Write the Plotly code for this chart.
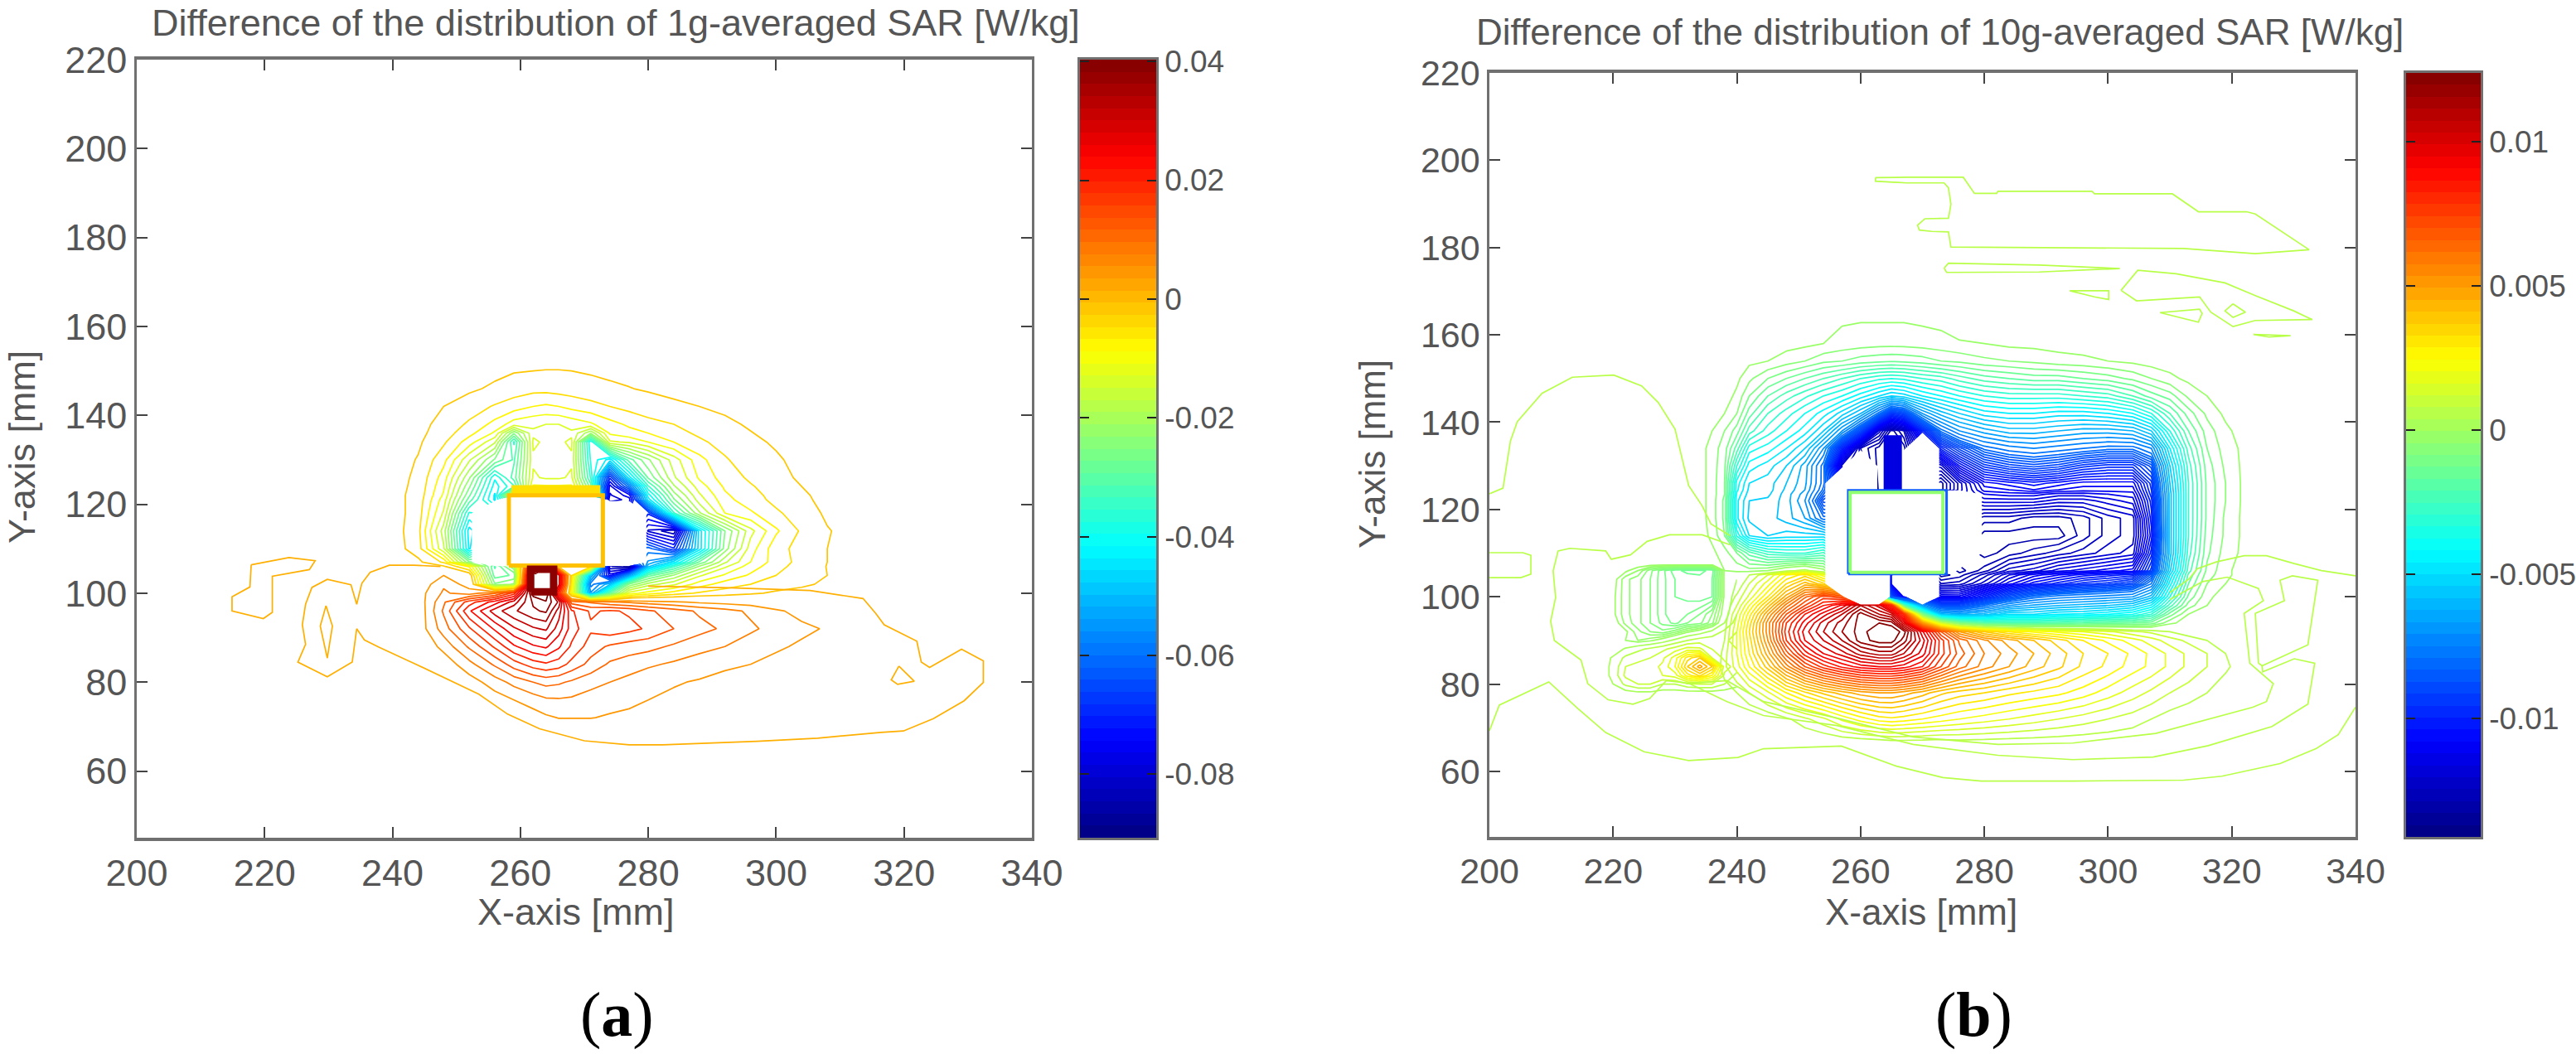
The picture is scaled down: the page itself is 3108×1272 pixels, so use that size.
import numpy as np
import plotly.graph_objects as go

N = None
W, H = 3108, 1272

# ---------- panel (a) values, in units of 0.001 W/kg ----------
a_x = [240,244,248,252,256,259,262,264,266,268,271,274,277,280,284,288,292,296,300,304,308,312]
a_y = [62,68,72,76,80,84,88,92,96,98,100,102,104,106,107,110,114,118,121,122,124,126,130,134,136,138,142,146,150,154]
a_z = [
 [0]*22,
 [0,0,0,0,0,0,1,1.5,2,2,2,2,2,2,2,1.5,1,1,1,0,0,0],
 [0,0,0,0,1,2,3,4,4.6,4.6,4.6,4.2,4,3.5,3,2.5,2,1.5,1,0,0,0],
 [0,0,0,1,3,4.5,6,7,7.2,7,6.2,5.5,5,4.5,3.8,3.2,2.6,2,1.5,1,0,0],
 [0,0,1,3,6,8.5,10.5,11.5,11,10,8.5,7.5,6.5,5.5,4.8,4.2,3.6,3,2.2,1.5,.8,0],
 [0,0,2.5,6.5,11,15,18,19,18,15.5,12.5,10,9,8,7,6,5,4.5,3.5,2.5,1,0],
 [0,1.5,5.5,11,17,22,25,26,23,19,15,13,12,11.5,10,8.5,7.5,6,5,4,2.5,1],
 [0,2.5,9,16,23,28,31,32,27,21,17,18.5,17.5,16,13.5,11.5,10,8,6.5,5.2,4.2,2.5],
 [0,2,11,22,30,34,37,38,30,20,16,17,16,14,12,10,8.5,7,5,3.5,2,.5],
 [0,2.5,10,18,24,30,38,40,34,12,10,8,7,6,5,4,3.5,3,2,1,.5,0],
 [0,3,8,6,10,18,42,45,20,-8,-55,-30,-12,-9,-6,-4,-3,-2,-1,-.5,0,0],
 [0,2,7,3,-25,-22,45,N,30,-6,-60,-50,-25,-18,-14,-9,-6,-4.5,-3,-2,-1,0],
 [0,1.5,4.5,1,-30,-28,45,N,30,-4,-50,-75,-55,-30,-22,-14,-10,-7,-4.5,-3,-1.5,-.5],
 [0,-.5,-1,-8,-32,-20,30,30,-2,-2,-3,-85,-90,-50,-35,-22,-14,-9,-5.5,-3.2,-1.4,0],
 [0,-.8,-5,-25,N,N,N,N,N,N,N,N,N,-55,-45,-28,-17,-10.5,-6,-3.5,-1.5,0],
 [0,-3,-16,-44,N,N,N,N,N,N,N,N,N,-60,-70,-45,-24,-12,-5.5,-3.5,-1.5,0],
 [0,-3.5,-18,-45,N,N,N,N,N,N,N,N,N,-80,-85,-45,-25.5,-14.5,-8,-4,-1.7,-.5],
 [0,-3,-14,-38,N,N,N,N,N,N,N,N,N,-70,-35,-20,-10.5,-8,-5,-3,-1,0],
 [-.3,-2.7,-12,-30,-44,N,N,N,N,N,N,-82,-78,-45,-26,-15,-8.5,-5.8,-3.7,-2.1,-.7,0],
 [-.5,-2.5,-11,-28,-44,-8,-7,-7,-7,-7,-8,-80,-75,-42,-24,-14,-8,-5.5,-3.5,-2,-.5,0],
 [-.5,-2.2,-10,-25,-42,-35,-10,-10,-10,-10,-30,-78,-60,-35,-20,-12,-7,-4.8,-3,-1.5,-.2,0],
 [-.5,-2,-9,-22,-40,-30,-13,-14,-14,-13,-35,-70,-45,-28,-17,-10,-6,-4,-2.5,-1,0,0],
 [0,-1.7,-6.5,-16,-26,-32,-14,-15,-15,-14,-38,-45,-30,-23,-15,-8.5,-4.8,-3,-1.8,-.8,0,0],
 [0,-1,-4,-9,-16,-35,-13,-14,-14,-13,-40,-14,-13,-10.5,-7.5,-5,-3.5,-2,-1.2,0,0,0],
 [0,-.7,-3,-6.5,-11,-25,-14,-14.5,-14.5,-14,-22,-10,-8.5,-7.5,-5.5,-4,-3,-1.6,-.8,0,0,0],
 [0,-.5,-2.5,-5,-8.5,-12,-13,-13.5,-13.5,-12.5,-11,-8.5,-7,-5.5,-4.5,-3,-2,-1.2,-.4,0,0,0],
 [0,-.2,-1.5,-3,-4.8,-6,-7.5,-8,-7.5,-6.5,-5.5,-4.5,-3.5,-2.8,-2,-1.5,-1,-.4,0,0,0,0],
 [0,0,-.3,-1,-2,-3,-3.5,-3.5,-3.2,-3,-2.5,-2,-1.6,-1.2,-.8,-.5,-.2,0,0,0,0,0],
 [0,0,0,-.2,-.8,-1.3,-1.5,-1.6,-1.6,-1.5,-1.2,-.9,-.7,-.5,-.3,-.2,0,0,0,0,0,0],
 [0]*22,
]
# outer contour at +0.0015 W/kg
a_outer_x = [247.5,243.4,239.5,236.5,235.2,234.4,233.5,229.8,227.4,226.4,225.9,226.4,225.2,229.8,233.7,234.4,235.6,237.8,243.4,253.5,258,263,270,277,282.3,297,306.5,316.4,319.9,324.6,329.4,332.4,332.4,329,324,322.7,322,316.9,315.6,313.6,305.3,292.8,280]
a_outer_y = [106,106.3,106.3,104.7,102.2,97.5,101.9,103.1,101.3,97.5,92.9,88.5,84.5,81.2,84.5,92,89.5,87.9,84.2,77.3,72.8,69.5,66.8,65.9,65.9,66.7,67.4,68.7,69,71.8,75.8,79.9,84.8,87.4,83.3,84.5,89.2,92.9,95.4,98.8,100.6,101.2,101.6]
a_isl1_x = [217.9,223.8,227.9,227,221.2,221.2,219.8,214.9,214.9,217.7,217.9]
a_isl1_y = [106.4,108,107.3,105.3,103.8,95.7,94.3,96,99.2,101.4,106.4]
a_isl2_x = [229.6,230.6,229.8,228.7,229.6]
a_isl2_y = [97.2,92.6,85.4,92.6,97.2]
a_isl3_x = [319.2,321.6,319,318,319.2]
a_isl3_y = [83.6,80.2,79.5,80.5,83.6]
a_box_x = [258.2,272.9,272.9,258.2,258.2]
a_box_y = [106.2,106.2,122,122,106.2]
a_cap_x = [258.6,272.5]      # saturated band on top of the square
a_cap_y = [123.2,123.2]
a_core_x = [261.6,265.2,265.2,261.6,261.6]   # saturated block round the small hole
a_core_y = [100.3,100.3,105.4,105.4,100.3]

# ---------- panel (b) values, in units of 0.001 W/kg ----------
b_x = [234,236,238,240,242,245,248,251,254,257,260,263,265,267,270,273,276,280,284,288,292,296,300,304,307,310,313,316,319,322,325]
b_y = [60,66,72,78,84,87,90,92,94,96,98,100,103,105,106,110,114,118,122,123.5,124.5,126,130,134,138,142,146,150,154,158,162,166]
b_z = [
 [0]*31,
 [0,0,0,0,0,0,0,0,0,0,0,0,.1,.1,.1,.1,.2,.2,.2,.2,.2,.2,.2,.2,.1,0,0,0,0,0,0],
 [0,0,0,0,.1,.2,.5,.9,1.3,1.9,2.4,2.8,2.9,2.8,2.6,2.4,2.2,2,1.8,1.6,1.4,1.2,1,.8,.6,.4,.3,.1,0,0,0],
 [0,0,.3,.6,1,1.7,2.6,3.3,3.9,4.4,4.8,5,5,4.8,4.4,3.9,3.6,3.4,3.1,2.9,2.7,2.4,2,1.6,1.3,1,.8,.6,.3,.1,0],
 [0,0,.9,1.6,2.6,4,5.6,7,8,8.7,9.2,9.4,9.4,9.2,8.6,7.4,6.4,5.6,5,4.4,3.9,3.3,2.9,2.4,2.1,1.7,1.3,1,.7,.3,.1],
 [0,0,.8,1.8,3,4.8,6.8,8.4,9.4,10,10.8,11.2,11.2,10.6,9.6,8,6.8,5.8,5.2,4.6,4,3.4,3,2.5,2.1,1.7,1.3,1,.6,.3,.1],
 [0,0,.6,1.8,3.2,5.4,7.8,9.4,10.2,11,12,12.4,12.4,11.6,10,8,6.5,5.5,4.8,4.2,3.6,3,2.5,2,1.6,1.2,.9,.6,.3,.1,0],
 [0,0,.5,1.8,3.4,5.6,8,9.6,10.6,11.4,12,12.6,12.6,12,9.5,7,5,3.8,3,2.5,2.1,1.8,1.5,1.1,.9,.6,.3,.1,0,0,0],
 [0,0,.4,1.6,3.2,5.6,7.8,9.2,10.4,11.2,12,12.2,12,10,5,1,-1,-2,-2.2,-2.2,-2,-1.8,-1.6,-1.4,-1.2,-.3,0,0,0,0,0],
 [0,0,.3,1.4,2.8,5,7,8.6,9.6,10.6,12,11,10.5,8,-1,-6,-6.5,-6,-5,-5,-4.6,-4.5,-4.2,-3.8,-3,-1.2,-.2,0,0,0,0],
 [0,0,.2,1,2.2,4,6,7.4,8.6,9.5,11,10,8,-2,-7,-9,-9,-8,-7,-6.5,-6.2,-6,-5.8,-5.4,-4.5,-2.4,-.8,-.2,0,0,0],
 [0,0,.1,.7,1.5,3,4.8,6.5,7.6,7,N,N,-9,-11,N,-11,-11,-10,-8.8,-8,-7.6,-7.4,-7.2,-7,-6,-3.4,-1.3,-.3,0,0,0],
 [0,0,0,.2,1,2,3.4,4.4,3.5,N,N,N,-11,N,N,-12.5,-12.4,-11.8,-11,-10.4,-10,-9.6,-9.4,-9,-7.8,-4.4,-1.8,-.6,-.2,0,0],
 [0,0,-.1,.1,.6,1.4,2.6,3.2,2,N,N,N,-11,N,N,-13,-12.8,-12.2,-11.5,-11,-10.7,-10.4,-10.2,-10,-8.6,-5,-2.1,-.8,-.3,0,0],
 [0,-.05,-.2,-.3,-.4,-.2,.4,.8,0,N,N,N,N,N,N,N,-13,-12.6,-12,-11.8,-11.4,-11.2,-11,-10.8,-9.4,-5.5,-2.4,-.9,-.3,0,0],
 [0,-.1,-.4,-1,-2,-2.8,-3,-3,-2.5,N,N,N,N,N,N,N,N,-13,-12.8,-12.6,-12.4,-12.2,-12,-11.8,-10,-6,-2.8,-1.1,-.4,-.1,0],
 [0,-.3,-1,-3.5,-5,-5.4,-5.2,-5.2,-5.2,N,N,N,N,N,N,N,N,-13,-13,-13,-13,-12.6,-12.2,-12,-10.4,-6,-3,-1.2,-.5,-.1,0],
 [0,-.4,-1.1,-4.5,-5.5,-5.6,-6,-6.6,-8,N,N,N,N,N,N,N,N,-12.6,-12.6,-12.8,-12.8,-12.6,-12.2,-12,-10.2,-6,-3,-1.3,-.5,-.1,0],
 [0,-.4,-1.1,-4.5,-5.4,-5.5,-6,-7,-9,N,N,N,N,N,N,N,N,-11.6,-11.6,-11.6,-11.8,-11.8,-11.6,-11.4,-10,-6,-3,-1.3,-.6,-.1,0],
 [0,-.4,-1,-4.3,-5.2,-5.3,-6,-6.8,-8.5,N,N,N,N,N,N,N,N,-11.3,-11.2,-11.2,-11.4,-11.4,-11.3,-11.2,-9.8,-6,-3,-1.3,-.6,-.1,0],
 [0,-.4,-1,-4.1,-5.1,-5.2,-5.9,-6.6,-8.2,N,N,-13,-13,N,N,-13,-12,-11,-10.9,-10.7,-10.9,-11,-11,-11,-9.7,-5.9,-3,-1.3,-.6,-.1,0],
 [0,-.4,-1,-4,-5,-5.2,-5.8,-6.5,-8,N,N,-13,-13,N,N,-13,-12,-10.8,-10.6,-10.4,-10.6,-10.8,-10.8,-10.8,-9.6,-5.8,-3,-1.3,-.6,-.1,0],
 [0,-.4,-.9,-3,-4.4,-4.8,-5.4,-6.4,-8,-12,N,-13,-13,N,N,-12,-10.5,-9.4,-9,-8.8,-9,-9.4,-9.6,-9.6,-8.8,-5.4,-2.8,-1.2,-.5,-.1,0],
 [0,-.4,-.8,-2,-3.6,-4,-4.6,-5.4,-7,-10,-12.5,-13,-13,-13,N,-10,-9,-8,-7.6,-7.4,-7.6,-7.8,-8,-8,-7.4,-4.6,-2.4,-1,-.4,-.1,0],
 [0,-.2,-.6,-1.2,-2.4,-3.2,-3.8,-4.4,-5.4,-7,-9,-12,-13,-12.5,-10,-8,-7,-6.4,-6,-6,-6.2,-6.4,-6.4,-6.2,-5.4,-3.4,-1.8,-.8,-.3,0,0],
 [0,-.05,-.2,-.6,-1.6,-2.6,-3.2,-3.8,-4.4,-5.2,-6.2,-8,-9.5,-9,-7,-6,-5.4,-4.8,-4.6,-4.6,-4.8,-4.8,-4.6,-4.2,-3.4,-2.2,-1.2,-.5,-.1,0,0],
 [0,0,0,-.3,-1,-1.8,-2.4,-2.9,-3.4,-3.8,-4.4,-5,-5.4,-5.2,-4.6,-4.2,-3.8,-3.4,-3.2,-3.2,-3.2,-3,-2.8,-2.2,-1.6,-1.2,-.5,-.2,0,0,0],
 [0,0,0,-.1,-.5,-1,-1.4,-1.8,-2.2,-2.6,-3,-3.3,-3.4,-3.3,-3,-2.8,-2.4,-2,-1.8,-1.6,-1.6,-1.4,-1.2,-.9,-.6,-.3,-.1,0,0,0,0],
 [0,0,0,0,-.1,-.2,-.4,-.6,-.9,-1,-1.2,-1.3,-1.35,-1.3,-1.2,-1,-.9,-.7,-.6,-.5,-.35,-.3,-.2,-.1,0,0,0,0,0,0,0],
 [0,0,0,0,0,0,-.05,-.1,-.2,-.35,-.4,-.45,-.45,-.45,-.4,-.35,-.25,-.2,-.1,-.08,-.05,0,0,0,0,0,0,0,0,0,0],
 [0,0,0,0,0,0,0,0,-.1,-.2,-.25,-.25,-.25,-.25,-.2,-.15,0,0,0,0,0,0,0,0,0,0,0,0,0,0,0],
 [0]*31,
]
# the small pocket and hot spot left of the main lobes
c_x = [218,220,222,224,226,228,230,232,234,236,238,240]
c_y = [76,78,80,82,84,86,88,90,92,94,96,100,104,106,107.5]
c_z = [
 [0]*12,
 [0,0,0,.1,.1,0,0,0,0,0,0,0],
 [0,.2,.7,1,1,.6,.6,.9,1,1,.6,.3],
 [0,.3,1.1,1.3,1.3,1.4,1.6,2.8,3.5,2.6,.9,.5],
 [0,.3,1,1.1,1.2,1.5,2.2,3.8,4.8,3.8,1.2,.8],
 [0,.25,.7,.9,1,1.3,2,3.2,3.8,1.4,.9,.9],
 [0,0,.25,.5,.7,.9,1.2,1.6,1.5,1,.9,1],
 [0,0,-.15,-.3,-.2,0,.3,.6,.8,.85,.9,1.2],
 [0,0,-.1,-.4,-.6,-.7,-.5,-.2,0,.3,.7,1],
 [0,0,-.35,-.55,-.75,-.95,-1.1,-.9,-.8,-.5,.2,.8],
 [0,-.1,-.4,-.55,-.75,-1,-1.2,-1.05,-.9,-.6,0,.6],
 [0,-.1,-.4,-.55,-.75,-1,-1.2,-1.25,-1.3,-1.2,-.1,.4],
 [0,-.05,-.4,-.55,-.75,-1,-1.2,-1.25,-1.3,-1.2,-.1,.2],
 [0,0,-.1,-.3,-.7,-1,-1.3,-1.4,-1.4,-1.3,-.1,0],
 [0]*12,
]
# outer contours of panel (b), about +0.0002 W/kg
b_lines = {
 "loop": ([200,202.2,203.4,204.5,208.5,213.4,220.1,224.6,227.3,230,232.2,234.4,235.8,238.9],
          [123.6,124.9,135.7,140.1,146.6,150.3,150.8,148.3,144.5,138.4,125.5,120.8,116.7,114]),
 "stub": ([200,205.4,206.7,206.7,205.1,200],[110.1,110.1,109.5,105.2,104.4,104.4]),
 "mid": ([238.9,234.4,229.1,225.5,222.8,219.7,218.8,213,211.1,210.3,210.7,209.9,210.5,214.8,215.9,219.2,223.2,225.9,228.6,232.2,238.4,244.3,256.2,268.5,282.2,294.3,307.3,316.2,326.5,332.3,333.4,330.1,325,324.9],
         [111.9,114.2,114.2,112.7,109.6,108.6,110.5,111.1,110.5,105.9,99.8,94.4,90,85.5,80.1,76.4,75.4,76.7,80.8,80.2,76,72.8,70.5,66.2,63.7,62.7,63.3,65.9,70.3,75.4,84.8,85.8,82.8,84.2]),
 "bottom": ([200,201.6,209.6,214.3,218.8,225,232.2,240.2,244.3,256.9,265.8,273.3,279.5,294.3,312.2,318.4,327.8,333.6,337.2,340],
            [69.3,75.2,80.5,74.4,68.9,64.5,62.5,63.2,65.2,65.8,61.2,58.6,57.8,57.8,58,58.9,61.8,65.2,68.4,74.7]),
 "pocket": ([324.3,323.8,328.5,327.8,329.8,333.9,332.3,324.9,324.3],[84.8,96.2,99.1,103.8,104.8,103.8,89,84.2,84.8]),
 "inner": ([232.2,238.4,244.3,256.2,268.5,282.2,294.3,307.7,323.4,325.6,326.7,322.9,322,325.1,324.3,319.3,315.3,310],
           [80.2,80.8,76,72.2,67.9,66.2,66.5,68.7,74.7,76,80.1,84.8,96.2,99.1,101.9,104.5,103.5,99.4]),
 "tail": ([340,334.5,330.1,325.6,322,317.5,314.4,313.1,310],[104.8,106,107.6,109.4,109.4,108,106.4,104.1,101]),
 "top": ([262.4,267.45,276.6,278.4,282,282.2,297.4,297.8,310.4,314.6,322.4,323.8,332.5,323.8,312.2,274.6,274.2,271.5,269.5,269.2,270.4,274.2,274.6,274.2,273.5,267.45,262.4,262.4],
         [196,196.1,196.1,192.4,192.4,192.9,192.9,192.3,192.3,188.2,188.2,187.7,179.5,178.6,179.8,180.1,183.6,183.7,184,185.1,186.6,186.7,189.9,193.7,194.8,194.8,195.2,196]),
 "thin": ([273.5,274.2,288.9,301.9,288.9,273.9,273.5],[175.3,176.4,176,175.2,174.4,174.3,175.3]),
 "wedge1": ([293.8,300.1,300.1,297.8,293.8],[170.1,170.1,168.1,168.7,170.1]),
 "isle": ([302.1,304.8,311,318.9,323.8,330,333,323.8,320.2,316.6,314.8,307.7,304.6,302.1],
          [170.2,174.8,174,171.9,169,165.5,163.5,163.3,161.9,165.2,168.7,168.1,167.8,170.2]),
 "wedge2": ([308.4,314.8,315.2,314.6,308.4],[165.1,165.9,164.9,162.9,165.1]),
 "diamond": ([320.2,322.2,320.2,318.9,320.2],[167.1,165.2,164,165.5,167.1]),
 "sliver": ([323.5,329.5,326,323.5],[160.1,159.8,159.5,160.1]),
}
b_box_x = [258.3,273.3,273.3,258.3,258.3]
b_box_y = [105.6,105.6,123.9,123.9,105.6]
b_shell_x = [258,273.9,273.9,258,258]
b_shell_y = [105.2,105.2,124.4,124.4,105.2]
b_strip_x = [265.2,265.2]     # solid blue strip above the square
b_strip_y = [124.4,137]

# ---------- axes text ----------
x_ticks = [200,220,240,260,280,300,320,340]
y_ticks = [60,80,100,120,140,160,180,200,220]
a_cb_ticks = [-80,-60,-40,-20,0,20,40]
a_cb_text = ["-0.08","-0.06","-0.04","-0.02","0","0.02","0.04"]
b_cb_ticks = [-10,-5,0,5,10]
b_cb_text = ["-0.01","-0.005","0","0.005","0.01"]
a_range = (-90.7, 40.3)
b_range = (-14.1, 12.38)
title_a = "Difference of the distribution of 1g-averaged SAR [W/kg]"
title_b = "Difference of the distribution of 10g-averaged SAR [W/kg]"

JET_PTS = [(0,(0,0,128)),(.125,(0,0,255)),(.375,(0,255,255)),(.625,(255,255,0)),(.875,(255,0,0)),(1,(128,0,0))]
JET = [[t,"rgb(%d,%d,%d)"%c] for t,c in JET_PTS]
def jet(t):
    t = min(max(t,0),1)
    for (t0,c0),(t1,c1) in zip(JET_PTS,JET_PTS[1:]):
        if t <= t1:
            f=(t-t0)/(t1-t0)
            return "rgb(%d,%d,%d)"%tuple(round(a+(b-a)*f) for a,b in zip(c0,c1))
def level_colour(v,r): return jet((v-r[0])/(r[1]-r[0]))
def sub_scale(start,end,r):
    # plotly spreads a line-coloured scale over start..end, so hand it that part of the colour bar
    return [[i/40, level_colour(start+(end-start)*i/40, r)] for i in range(41)]

INK = "#555555"
AXC = "#707070"
LW = 1.7
fig = go.Figure()

def dom_x(l,r): return [l/W, r/W]
def dom_y(t,b): return [1-b/H, 1-t/H]

def contour(z,x,y,start,end,size,r,xa,ya,lw=LW):
    fig.add_trace(go.Contour(z=z,x=x,y=y,xaxis=xa,yaxis=ya,
        colorscale=sub_scale(start,end,r),showscale=False,autocontour=False,connectgaps=False,hoverinfo="skip",
        contours=dict(coloring="lines",start=start,end=end,size=size,showlabels=False),
        line=dict(width=lw,smoothing=0)))

def poly(x,y,col,xa,ya,w=LW):
    fig.add_trace(go.Scatter(x=x,y=y,mode="lines",xaxis=xa,yaxis=ya,showlegend=False,hoverinfo="skip",
                             line=dict(color=col,width=w)))

# panel a
contour(a_z,a_x,a_y,-88.5,-1.5,3,a_range,"x","y")
contour(a_z,a_x,a_y,4.5,40.5,3,a_range,"x","y")
ca = level_colour(1.5,a_range)
for px,py in [(a_outer_x,a_outer_y),(a_isl1_x,a_isl1_y),(a_isl2_x,a_isl2_y),(a_isl3_x,a_isl3_y)]:
    poly(px,py,ca,"x","y")
poly(a_cap_x,a_cap_y,"#ffe000","x","y",12)
poly(a_box_x,a_box_y,"#ffc000","x","y",5)
poly(a_core_x,a_core_y,"#8b0000","x","y",9)

# panel b
contour(b_z,b_x,b_y,-7.8,-.2,.4,b_range,"x2","y2")
contour(b_z,b_x,b_y,-13.9,-8.1,.2,b_range,"x2","y2")
contour(b_z,b_x,b_y,.6,12.6,.4,b_range,"x2","y2")
contour(c_z,c_x,c_y,-1.35,-.15,.15,b_range,"x2","y2")
contour(c_z,c_x,c_y,.2,5,.4,b_range,"x2","y2")
cb = level_colour(.6,b_range)
for k,(px,py) in b_lines.items():
    poly(px,py,cb,"x2","y2")
poly(b_strip_x,b_strip_y,"#0000e0","x2","y2",22)
poly(b_shell_x,b_shell_y,"#1060ff","x2","y2",3)
poly(b_box_x,b_box_y,"#90ff70","x2","y2",4)

# colour bars
for r,xa,ya in [(a_range,"x3","y3"),(b_range,"x4","y4")]:
    lv = list(np.linspace(r[0],r[1],65))
    mids = [(p+q)/2 for p,q in zip(lv,lv[1:])]
    fig.add_trace(go.Heatmap(z=[[m] for m in mids],x=[0],y=mids,xaxis=xa,yaxis=ya,zmin=r[0],zmax=r[1],
                             colorscale=JET,showscale=False,hoverinfo="skip"))

common_x = dict(range=[200,340],tickmode="array",tickvals=x_ticks,ticks="inside",ticklen=13,tickcolor="#444",tickwidth=2,automargin=False,
                showline=True,linecolor=AXC,linewidth=4,mirror="ticks",showgrid=False,zeroline=False)
common_y = dict(range=[45,220],tickmode="array",tickvals=y_ticks,ticks="inside",ticklen=13,tickcolor="#444",tickwidth=2,automargin=False,
                showline=True,linecolor=AXC,linewidth=2.5,mirror="ticks",showgrid=False,zeroline=False)
bar_x = dict(range=[-.5,.5],showticklabels=False,ticks="",showline=True,linecolor=AXC,linewidth=3,mirror=True,showgrid=False,zeroline=False,automargin=False)
def bar_y(r,tv,tt,anchor):
    return dict(range=list(r),tickmode="array",tickvals=tv,ticktext=tt,side="right",ticks="inside",ticklen=11,tickcolor="#222",tickwidth=2,automargin=False,
                showline=True,linecolor=AXC,linewidth=2.5,mirror="ticks",showgrid=False,zeroline=False,anchor=anchor,
                tickfont=dict(family="Liberation Sans",size=37,color=INK))

fig.update_layout(
    width=W,height=H,margin=dict(l=0,r=0,t=0,b=0,autoexpand=False),paper_bgcolor="white",plot_bgcolor="white",showlegend=False,
    xaxis =dict(domain=dom_x(165,1245),anchor="y", tickfont=dict(family="Liberation Sans",size=45,color=INK),**common_x),
    yaxis =dict(domain=dom_y(72,1011),anchor="x", tickfont=dict(family="Liberation Sans",size=45,color=INK),**common_y),
    xaxis2=dict(domain=dom_x(1797,2842),anchor="y2",tickfont=dict(family="Liberation Sans",size=43,color=INK),**common_x),
    yaxis2=dict(domain=dom_y(88,1010),anchor="x2",tickfont=dict(family="Liberation Sans",size=43,color=INK),**common_y),
    xaxis3=dict(domain=dom_x(1303,1395),anchor="y3",**bar_x),
    yaxis3=dict(domain=dom_y(72,1011),**bar_y(a_range,a_cb_ticks,a_cb_text,"x3")),
    xaxis4=dict(domain=dom_x(2903,2993),anchor="y4",**bar_x),
    yaxis4=dict(domain=dom_y(88,1010),**bar_y(b_range,b_cb_ticks,b_cb_text,"x4")),
)

def note(text,px,py,size,angle=0,family="Liberation Sans",color=INK):
    fig.add_annotation(text=text,x=px/W,y=1-py/H,xref="paper",yref="paper",showarrow=False,textangle=angle,
                       xanchor="center",yanchor="middle",font=dict(family=family,size=size,color=color))

note(title_a,743,27,45)
note(title_b,2340,38,44)
note("X-axis [mm]",695,1100,45)
note("X-axis [mm]",2318,1100,44)
note("Y-axis [mm]",26,540,45,-90)
note("Y-axis [mm]",1655,548,44,-90)
note("(<b>a</b>)",744,1224,76,0,"Liberation Serif","#000")
note("(<b>b</b>)",2381,1224,76,0,"Liberation Serif","#000")

fig.write_html("out.html",config=dict(displayModeBar=False),post_script="document.body.style.margin='0';")
